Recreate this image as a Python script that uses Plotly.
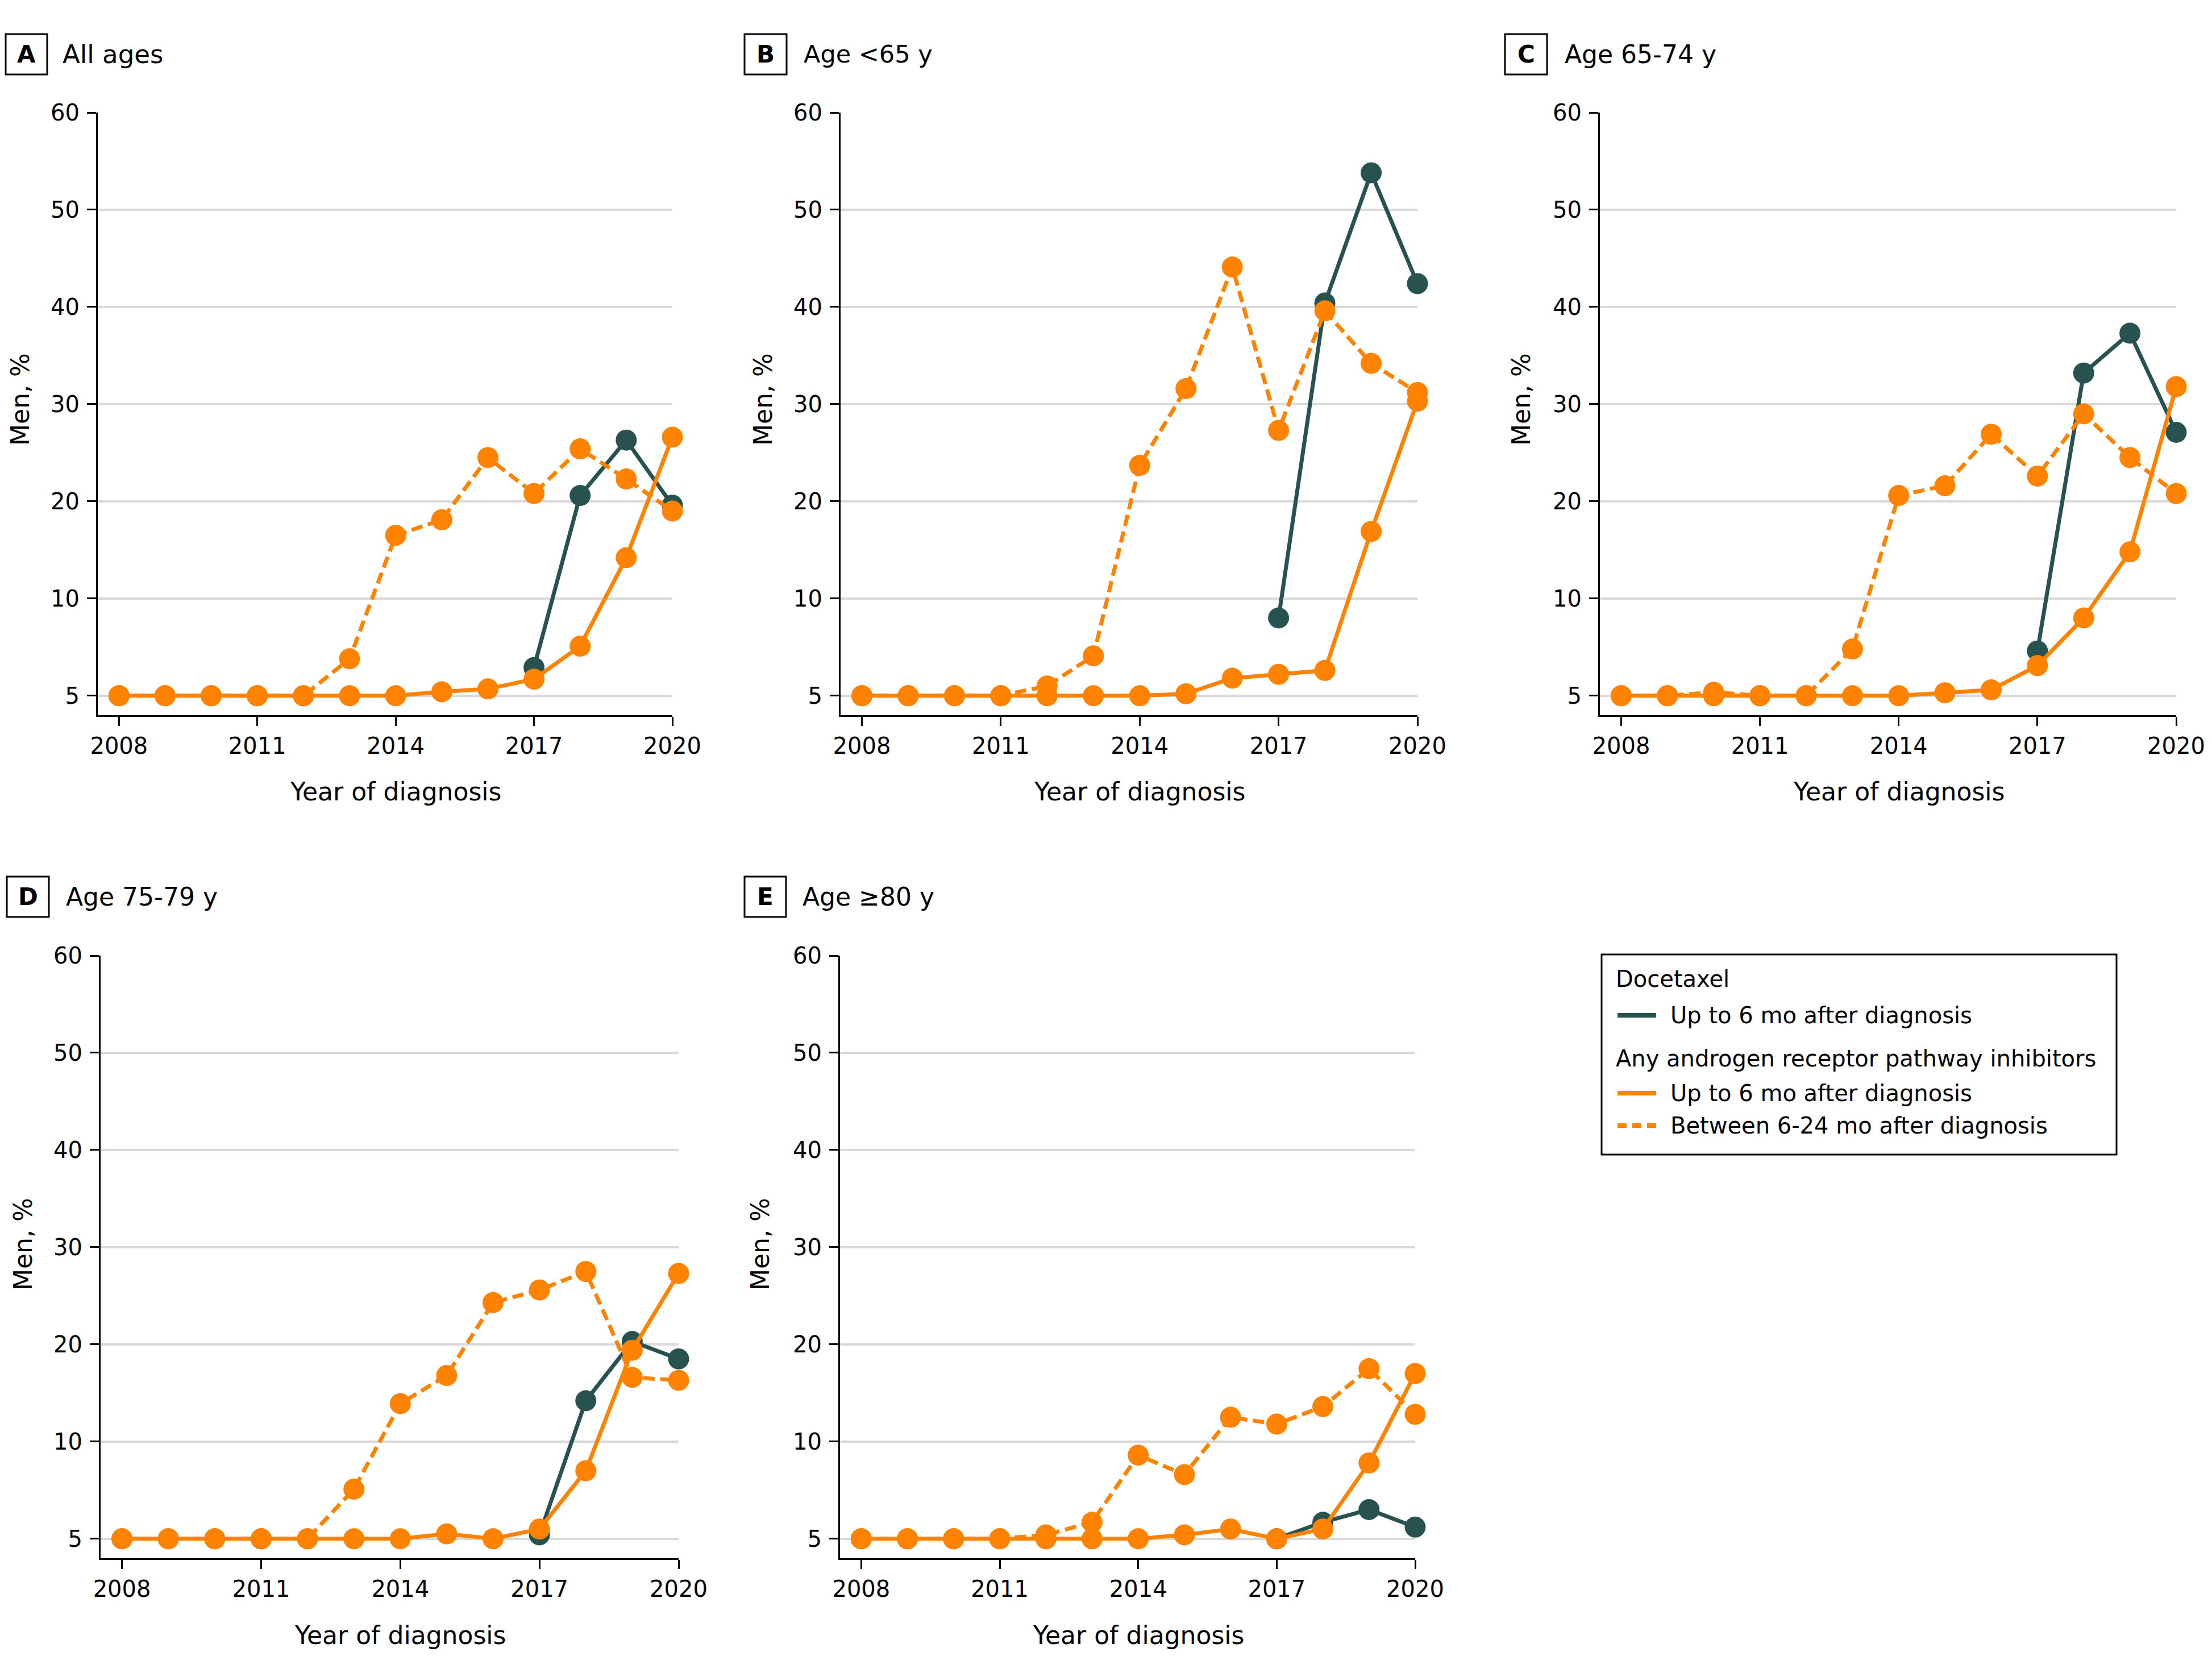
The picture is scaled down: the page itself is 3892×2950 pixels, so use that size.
import plotly.graph_objects as go

# page body has an 8 px margin, so the figure is drawn 16 px smaller than the window
W, H = 3876, 2934
OFF = 8

years = [2008, 2009, 2010, 2011, 2012, 2013, 2014, 2015, 2016, 2017, 2018, 2019, 2020]
x_tick_vals = [2008, 2011, 2014, 2017, 2020]
y_tick_vals = [0, 10, 20, 30, 40, 50, 60]
y_tick_text = ["5", "10", "20", "30", "40", "50", "60"]

panel_letters = ["A", "B", "C", "D", "E"]
panel_titles = ["All ages", "Age <65 y", "Age 65-74 y", "Age 75-79 y", "Age \u226580 y"]

# Values in axis units (the bottom "5" tick sits at 0)
docetaxel_A = [None, None, None, None, None, None, None, None, None, 2.9, 20.6, 26.3, 19.6]
arpi_up6_A = [0, 0, 0, 0, 0, 0, 0, 0.4, 0.7, 1.7, 5.1, 14.2, 26.6]
arpi_6to24_A = [0, 0, 0, 0, 0, 3.8, 16.5, 18.1, 24.5, 20.8, 25.4, 22.3, 19.0]

docetaxel_B = [None, None, None, None, None, None, None, None, None, 8.0, 40.4, 53.8, 42.4]
arpi_up6_B = [0, 0, 0, 0, 0, 0, 0, 0.2, 1.8, 2.2, 2.6, 16.9, 30.3]
arpi_6to24_B = [0, 0, 0, 0, 1.0, 4.1, 23.7, 31.6, 44.1, 27.3, 39.6, 34.2, 31.2]

docetaxel_C = [None, None, None, None, None, None, None, None, None, 4.6, 33.2, 37.3, 27.1]
arpi_up6_C = [0, 0, 0, 0, 0, 0, 0, 0.3, 0.6, 3.1, 8.0, 14.8, 31.8]
arpi_6to24_C = [0, 0, 0.35, 0, 0, 4.8, 20.6, 21.6, 26.9, 22.6, 29.0, 24.5, 20.8]

docetaxel_D = [None, None, None, None, None, None, None, None, None, 0.4, 14.2, 20.3, 18.5]
arpi_up6_D = [0, 0, 0, 0, 0, 0, 0, 0.5, 0, 1.0, 7.0, 19.4, 27.3]
arpi_6to24_D = [0, 0, 0, 0, 0, 5.1, 13.9, 16.8, 24.3, 25.6, 27.5, 16.6, 16.3]

docetaxel_E = [None, None, None, None, None, None, None, None, None, 0, 1.7, 3.0, 1.2]
arpi_up6_E = [0, 0, 0, 0, 0, 0, 0, 0.4, 1.0, 0, 1.0, 7.8, 17.0]
arpi_6to24_E = [0, 0, 0, 0, 0.4, 1.7, 8.6, 6.6, 12.5, 11.8, 13.6, 17.5, 12.8]

docetaxel = [docetaxel_A, docetaxel_B, docetaxel_C, docetaxel_D, docetaxel_E]
arpi_up6 = [arpi_up6_A, arpi_up6_B, arpi_up6_C, arpi_up6_D, arpi_up6_E]
arpi_6to24 = [arpi_6to24_A, arpi_6to24_B, arpi_6to24_C, arpi_6to24_D, arpi_6to24_E]

legend_groups = ["Docetaxel", "Any androgen receptor pathway inhibitors"]
legend_items = ["Up to 6 mo after diagnosis", "Up to 6 mo after diagnosis", "Between 6-24 mo after diagnosis"]

# ---- styling / layout ----
FONT = "DejaVu Sans"
DARK = "#28524F"
ORANGE = "#FF8300"
GRID = "#D9D9D9"
MS = 37
LW = 7

# panel geometry in window pixels: (x0, x1, row)
geom = [(172, 1183, 0), (1479, 2494, 0), (2815, 3829, 0), (177, 1194, 1), (1478, 2490, 1)]
rows_px = [(198, 1258), (1681, 2741)]
box_x = [(10, 83), (1310, 1384), (2648, 2722), (12, 86), (1310, 1383)]
box_y = [(60, 131), (1542, 1613)]
title_x = [108, 1412, 2751, 114, 1410]
title_y = [95, 1578]
title_size = [45, 43, 44, 44, 44]
ytitle_x = [35, 1342, 2676, 40, 1337]
ytitle_y = [703, 2189]
xtitle_y = [1392, 2876]


def px(v):
    return (v - OFF) / W


def py(v):
    return 1 - (v - OFF) / H


fig = go.Figure()
shapes = []
annotations = []

for i in range(5):
    sfx = "" if i == 0 else str(i + 1)
    xa, ya = "x" + sfx, "y" + sfx
    series = [
        (docetaxel[i], DARK, "solid"),
        (arpi_6to24[i], ORANGE, "20px,10px"),
        (arpi_up6[i], ORANGE, "solid"),
    ]
    for vals, col, dash in series:
        fig.add_trace(go.Scatter(
            x=years, y=vals, xaxis=xa, yaxis=ya, mode="lines+markers",
            line=dict(color=col, width=LW, dash=dash),
            marker=dict(color=col, size=MS),
            cliponaxis=False, showlegend=False, connectgaps=False,
        ))
    x0, x1, r = geom[i]
    y0, y1 = rows_px[r]
    fig.layout["xaxis" + sfx] = dict(
        domain=[px(x0), px(x1)], anchor=ya, range=[2007.54, 2020],
        tickvals=x_tick_vals, ticks="outside", ticklen=16, tickwidth=2.5,
        tickcolor="black", showline=True, linecolor="black", linewidth=3,
        showgrid=False, zeroline=False, automargin=False,
        tickfont=dict(family=FONT, size=40, color="black"),
        ticklabelstandoff=1,
    )
    fig.layout["yaxis" + sfx] = dict(
        domain=[py(y1), py(y0)], anchor=xa, range=[-2, 60],
        tickvals=y_tick_vals, ticktext=y_tick_text, ticks="outside",
        ticklen=16, tickwidth=2.5, tickcolor="black",
        showline=True, linecolor="black", linewidth=3,
        showgrid=True, gridcolor=GRID, gridwidth=4, zeroline=False,
        automargin=False,
        tickfont=dict(family=FONT, size=40, color="black"),
        ticklabelstandoff=5,
    )
    # panel letter box
    bx0, bx1 = box_x[i]
    by0, by1 = box_y[r]
    shapes.append(dict(type="rect", xref="paper", yref="paper",
                       x0=px(bx0), x1=px(bx1), y0=py(by1), y1=py(by0),
                       line=dict(color="black", width=3), fillcolor="rgba(0,0,0,0)"))
    annotations.append(dict(xref="paper", yref="paper", x=px((bx0 + bx1) / 2), y=py((by0 + by1) / 2),
                            text="<b>" + panel_letters[i] + "</b>", showarrow=False,
                            xanchor="center", yanchor="middle",
                            font=dict(family=FONT, size=42, color="black")))
    annotations.append(dict(xref="paper", yref="paper", x=px(title_x[i]), y=py(title_y[r]),
                            text=panel_titles[i], showarrow=False,
                            xanchor="left", yanchor="middle",
                            font=dict(family=FONT, size=title_size[i], color="black")))
    annotations.append(dict(xref="paper", yref="paper", x=px(ytitle_x[i]), y=py(ytitle_y[r]),
                            text="Men, %", showarrow=False, textangle=-90,
                            xanchor="center", yanchor="middle",
                            font=dict(family=FONT, size=44, color="black")))
    annotations.append(dict(xref=xa, yref="paper", x=2014, y=py(xtitle_y[r]),
                            text="Year of diagnosis", showarrow=False,
                            xanchor="center", yanchor="middle",
                            font=dict(family=FONT, size=44, color="black")))

# ---- manual legend ----
LX0, LX1, LY0, LY1 = 2818, 3724, 1679, 2031
shapes.append(dict(type="rect", xref="paper", yref="paper",
                   x0=px(LX0), x1=px(LX1), y0=py(LY1), y1=py(LY0),
                   line=dict(color="black", width=3), fillcolor="white"))
header_y = [1722, 1862]
for txt, yy in zip(legend_groups, header_y):
    annotations.append(dict(xref="paper", yref="paper", x=px(2841), y=py(yy), text=txt,
                            showarrow=False, xanchor="left", yanchor="middle",
                            font=dict(family=FONT, size=40, color="black")))
item_y = [1786, 1923, 1980]
item_col = [DARK, ORANGE, ORANGE]
item_dash = ["solid", "solid", "16px,10px"]
for txt, yy, col, dash in zip(legend_items, item_y, item_col, item_dash):
    shapes.append(dict(type="line", xref="paper", yref="paper",
                       x0=px(2846), x1=px(2914), y0=py(yy), y1=py(yy),
                       line=dict(color=col, width=8, dash=dash)))
    annotations.append(dict(xref="paper", yref="paper", x=px(2937), y=py(yy), text=txt,
                            showarrow=False, xanchor="left", yanchor="middle",
                            font=dict(family=FONT, size=40, color="black")))

fig.update_layout(
    width=W, height=H, margin=dict(l=0, r=0, t=0, b=0, pad=0, autoexpand=False),
    autosize=False,
    paper_bgcolor="white", plot_bgcolor="white",
    font=dict(family=FONT, color="black"),
    shapes=shapes, annotations=annotations, showlegend=False,
)

fig.write_html("out.html", config={"responsive": False, "displayModeBar": False})
